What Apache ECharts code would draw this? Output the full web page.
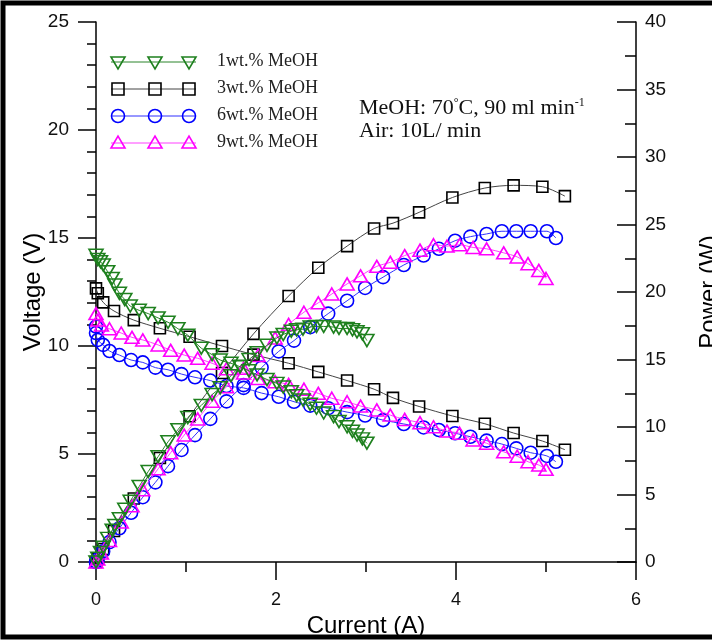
<!DOCTYPE html>
<html>
<head>
<meta charset="utf-8">
<script src="https://cdn.jsdelivr.net/npm/echarts@6/dist/echarts.min.js"></script>
<style>
    html, body {margin: 0; padding: 0; background: #fff;}
    #chart {width: 712px; height: 640px;}
</style>
</head>
<body>
<div id="chart"></div>
<script>
// 1 wt.% MeOH
var cur1 = [0, 0.02, 0.05, 0.08, 0.13, 0.18, 0.21, 0.26, 0.32, 0.38, 0.48, 0.58, 0.69, 0.80, 0.91, 1.02, 1.17, 1.29, 1.38, 1.50,
    1.60, 1.70, 1.79, 1.90, 2.01, 2.08, 2.17, 2.23, 2.30, 2.38, 2.45, 2.53, 2.64, 2.70, 2.79, 2.85, 2.90, 2.96, 3.01];
var volt1 = [14.2, 14.0, 13.9, 13.75, 13.44, 13.13, 12.82, 12.44, 12.15, 11.85, 11.65, 11.5, 11.3, 11.1, 10.8, 10.5, 9.9, 9.6, 9.35, 9.2,
    9.04, 8.85, 8.66, 8.45, 8.27, 8.1, 7.88, 7.7, 7.5, 7.3, 7.12, 6.9, 6.73, 6.5, 6.26, 6.05, 5.88, 5.7, 5.5];
var pow1 = [0, 0.28, 0.7, 1.1, 1.75, 2.36, 2.7, 3.2, 3.9, 4.5, 5.6, 6.7, 7.8, 8.9, 9.8, 10.7, 11.6, 12.4, 12.9, 13.8,
    14.5, 15.0, 15.5, 16.05, 16.6, 16.85, 17.1, 17.2, 17.25, 17.4, 17.45, 17.45, 17.4, 17.3, 17.3, 17.2, 17.05, 16.9, 16.4];

// 3 wt.% MeOH
var cur3 = [0, 0.02, 0.08, 0.20, 0.42, 0.71, 1.04, 1.40, 1.75, 2.14, 2.47, 2.79, 3.09, 3.30, 3.59, 3.96, 4.32, 4.64, 4.96, 5.21];
var volt3 = [12.67, 12.44, 12.02, 11.62, 11.2, 10.82, 10.43, 10.0, 9.6, 9.2, 8.8, 8.4, 8.0, 7.6, 7.2, 6.76, 6.4, 5.97, 5.6, 5.2];
var pow3 = [0, 0.25, 0.96, 2.3, 4.7, 7.7, 10.8, 14.0, 16.9, 19.7, 21.8, 23.4, 24.7, 25.1, 25.9, 27.0, 27.7, 27.9, 27.8, 27.1];

// 6 wt.% MeOH
var cur6 = [0, 0.0, 0.02, 0.08, 0.15, 0.26, 0.39, 0.52, 0.66, 0.80, 0.95, 1.10, 1.27, 1.45, 1.64, 1.84, 2.03, 2.20, 2.38, 2.58,
    2.79, 2.99, 3.19, 3.42, 3.64, 3.81, 3.99, 4.16, 4.34, 4.51, 4.67, 4.83, 5.01, 5.11];
var volt6 = [10.9, 10.6, 10.28, 10.05, 9.77, 9.58, 9.35, 9.24, 9.0, 8.9, 8.7, 8.55, 8.4, 8.15, 8.06, 7.82, 7.65, 7.42, 7.24, 7.12,
    6.94, 6.78, 6.57, 6.39, 6.23, 6.11, 5.96, 5.8, 5.62, 5.46, 5.26, 5.06, 4.91, 4.64];
var pow6 = [0, 0.0, 0.2, 0.8, 1.47, 2.5, 3.65, 4.8, 5.9, 7.1, 8.3, 9.4, 10.6, 11.9, 13.1, 14.4, 15.6, 16.4, 17.4, 18.4,
    19.35, 20.3, 21.1, 22.0, 22.7, 23.2, 23.8, 24.1, 24.3, 24.5, 24.5, 24.5, 24.5, 24.0];

// 9 wt.% MeOH
var cur9 = [0, 0.02, 0.06, 0.15, 0.28, 0.40, 0.52, 0.69, 0.83, 0.98, 1.13, 1.29, 1.45, 1.64, 1.80, 1.99, 2.14, 2.31, 2.47, 2.62,
    2.79, 2.94, 3.12, 3.27, 3.43, 3.60, 3.75, 3.90, 4.04, 4.19, 4.34, 4.53, 4.68, 4.80, 4.92, 5.00];
var volt9 = [11.5, 11.2, 10.97, 10.8, 10.6, 10.4, 10.28, 10.05, 9.8, 9.58, 9.43, 9.2, 8.95, 8.75, 8.5, 8.35, 8.22, 8.0, 7.81, 7.58,
    7.42, 7.22, 7.04, 6.8, 6.6, 6.45, 6.26, 6.06, 5.96, 5.65, 5.5, 5.1, 4.9, 4.64, 4.49, 4.29];
var pow9 = [0, 0.22, 0.66, 1.6, 2.97, 4.16, 5.35, 6.9, 8.1, 9.4, 10.6, 11.9, 12.98, 14.35, 15.3, 16.6, 17.6, 18.5, 19.2, 19.85,
    20.6, 21.2, 21.9, 22.2, 22.7, 23.1, 23.5, 23.4, 23.5, 23.3, 23.2, 22.9, 22.6, 22.1, 21.6, 21.0];

var names = ['1wt.% MeOH', '3wt.% MeOH', '6wt.% MeOH', '9wt.% MeOH'];
var colors = ['#1e801e', '#000000', '#0000ff', '#ff00ff'];
var lineColors = ['#2a842a', '#444444', '#3030ff', '#ff40ff'];

var myChart = echarts.init(document.getElementById('chart'));

function pairs(xs, ys) {
    var out = [];
    for (var i = 0; i < xs.length; i++) {
        out.push([xs[i], ys[i]]);
    }
    return out;
}

var marks = [
    {symbol: 'triangle', size: [14, 12], rotate: 180},
    {symbol: 'rect', size: 11, rotate: 0},
    {symbol: 'circle', size: 13, rotate: 0},
    {symbol: 'triangle', size: [14, 12], rotate: 0}
];
var zs = [5, 2, 3, 4];

function makeSeries(k, data, axis) {
    return {
        type: 'line',
        name: names[k],
        yAxisIndex: axis,
        data: data,
        smooth: 0.3,
        z: zs[k],
        symbol: marks[k].symbol,
        symbolSize: marks[k].size,
        symbolRotate: marks[k].rotate,
        showAllSymbol: true,
        itemStyle: {color: 'transparent', borderColor: colors[k], borderWidth: 1.6},
        lineStyle: {color: lineColors[k], width: 1},
        emphasis: {disabled: true},
        animation: false
    };
}

var series = [
    makeSeries(0, pairs(cur1, volt1), 0), makeSeries(0, pairs(cur1, pow1), 1),
    makeSeries(1, pairs(cur3, volt3), 0), makeSeries(1, pairs(cur3, pow3), 1),
    makeSeries(2, pairs(cur6, volt6), 0), makeSeries(2, pairs(cur6, pow6), 1),
    makeSeries(3, pairs(cur9, volt9), 0), makeSeries(3, pairs(cur9, pow9), 1)
];

var serif = '"Liberation Serif", "Times New Roman", serif';
var sans = '"Liberation Sans", Arial, sans-serif';

// hand-drawn legend (three markers per row, like the original)
var legendEls = [];
for (var k = 0; k < 4; k++) {
    var cy = 62 + 27 * k;
    legendEls.push({type: 'line', shape: {x1: 111, y1: cy, x2: 196, y2: cy}, style: {stroke: lineColors[k], lineWidth: 1}});
    [118, 155, 189].forEach(function (cx) {
        var st = {fill: 'none', stroke: colors[k], lineWidth: 1.6};
        if (k == 0) {
            legendEls.push({type: 'polygon', shape: {points: [[cx - 7, cy - 5], [cx + 7, cy - 5], [cx, cy + 7]]}, style: st});
        } else if (k == 1) {
            legendEls.push({type: 'rect', shape: {x: cx - 6, y: cy - 6, width: 12, height: 12}, style: st});
        } else if (k == 2) {
            legendEls.push({type: 'circle', shape: {cx: cx, cy: cy, r: 6.5}, style: st});
        } else {
            legendEls.push({type: 'polygon', shape: {points: [[cx - 7, cy + 5], [cx + 7, cy + 5], [cx, cy - 7]]}, style: st});
        }
    });
    legendEls.push({
        type: 'text', left: 217, top: cy - 10,
        style: {text: names[k], fill: '#222', font: '18px ' + serif}
    });
}

var option = {
    backgroundColor: '#fff',
    animation: false,
    grid: {left: 96, right: 76, top: 22, bottom: 78, outerBoundsMode: 'none'},
    xAxis: {
        type: 'value', min: 0, max: 6, interval: 2,
        name: 'Current (A)', nameLocation: 'middle', nameGap: 52, nameMoveOverlap: false,
        nameTextStyle: {fontFamily: sans, fontSize: 24, color: '#000'},
        axisLine: {lineStyle: {color: '#000', width: 1.5}},
        axisTick: {length: 18, lineStyle: {color: '#000', width: 1.5}},
        minorTick: {show: true, splitNumber: 2, length: 10, lineStyle: {color: '#000', width: 1.5}},
        axisLabel: {margin: 29, fontFamily: sans, fontSize: 18, color: '#111'},
        splitLine: {show: false}
    },
    yAxis: [{
        type: 'value', min: 0, max: 25, interval: 5,
        name: 'Voltage (V)', nameLocation: 'middle', nameGap: 51, nameRotate: 90, nameMoveOverlap: false,
        nameTextStyle: {fontFamily: sans, fontSize: 24, color: '#000'},
        axisLine: {show: true, lineStyle: {color: '#000', width: 1.5}},
        axisTick: {length: 18, lineStyle: {color: '#000', width: 1.5}},
        minorTick: {show: true, splitNumber: 5, length: 9, lineStyle: {color: '#000', width: 1.5}},
        axisLabel: {margin: 27, fontFamily: sans, fontSize: 19, color: '#111'},
        splitLine: {show: false}
    }, {
        type: 'value', min: 0, max: 40, interval: 5, position: 'right',
        name: 'Power (W)', nameLocation: 'middle', nameGap: 61, nameRotate: 90, nameMoveOverlap: false,
        nameTextStyle: {fontFamily: sans, fontSize: 24, color: '#000'},
        axisLine: {show: true, lineStyle: {color: '#000', width: 1.5}},
        axisTick: {inside: true, length: 19, lineStyle: {color: '#000', width: 1.5}},
        minorTick: {show: true, splitNumber: 2, length: 11, lineStyle: {color: '#000', width: 1.5}},
        axisLabel: {margin: 9, fontFamily: sans, fontSize: 19, color: '#111'},
        splitLine: {show: false}
    }],
    graphic: legendEls.concat([
        {
            type: 'text', left: 359, top: 97,
            style: {
                text: 'MeOH: 70{s|°}C, 90 ml min{s|-1}',
                font: '22px ' + serif, fill: '#111',
                rich: {s: {fontSize: 12, fontFamily: serif, verticalAlign: 'top', lineHeight: 12}}
            }
        },
        {
            type: 'text', left: 359, top: 120,
            style: {text: 'Air: 10L/ min', font: '22px ' + serif, fill: '#111'}
        },
        {
            type: 'rect', z: 100, silent: true,
            shape: {x: 3, y: 3, width: 760, height: 634},
            style: {fill: 'none', stroke: '#000', lineWidth: 5}
        }
    ]),
    series: series
};

myChart.setOption(option);
</script>
</body>
</html>
